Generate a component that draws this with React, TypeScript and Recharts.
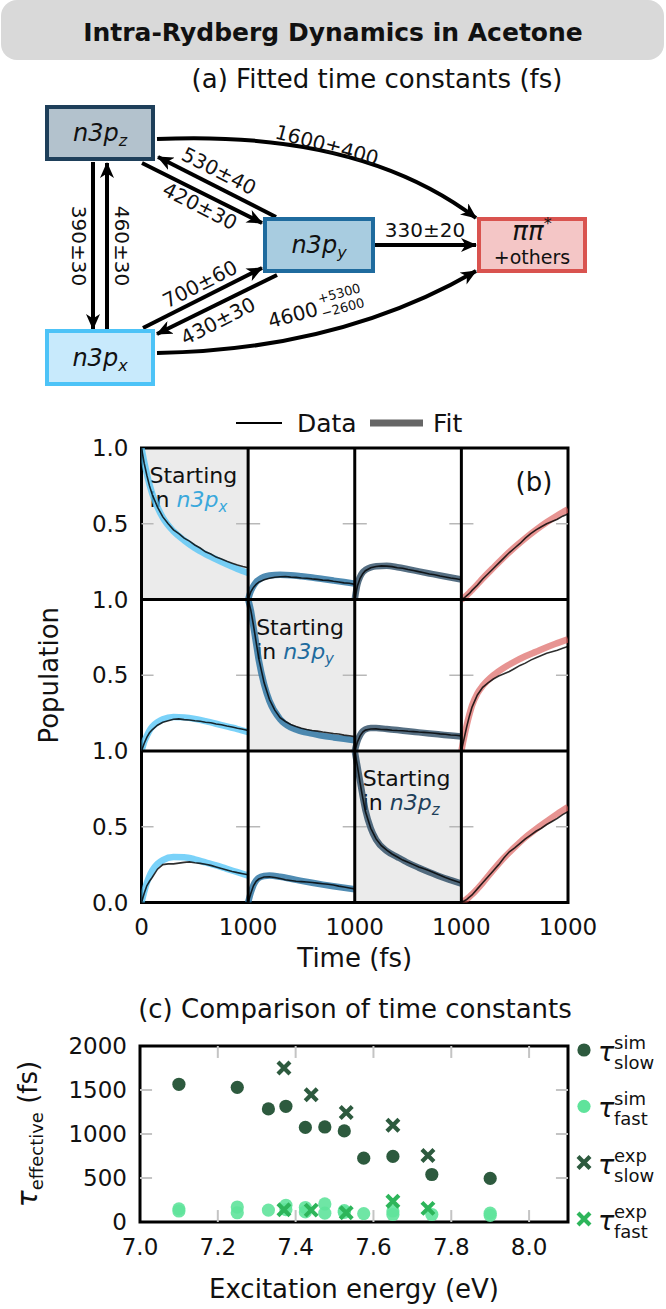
import React from 'react';
import {
  LineChart, Line, XAxis, YAxis, ReferenceArea, ReferenceLine,
  ScatterChart, Scatter,
} from 'recharts';

const FONT = '"DejaVu Sans", "Liberation Sans", sans-serif';
const INK = '#111';

/* ---------------- Panel (a): fitted time constants (fs) ---------------- */
const TRANSITIONS = ['z-p', 'y-z', 'z-y', 'z-x', 'x-z', 'x-y', 'y-x', 'y-p', 'x-p'];
const TAU_LABELS = ['1600±400', '530±40', '420±30', '390±30', '460±30', '700±60', '430±30', '330±20', '4600'];
const TAU_XP_ERR = ['+5300', '−2600'];

/* layout of the diagram (not data) */
const BOXES: Record<string, { x: number; y: number; w: number; h: number; stroke: string; fill: string }> = {
  z: { x: 45, y: 105, w: 110, h: 56, stroke: '#1e3f5a', fill: '#b3c2cd' },
  y: { x: 263, y: 217, w: 112, h: 56, stroke: '#1f6b9e', fill: '#a8cce0' },
  x: { x: 45, y: 329, w: 110, h: 57, stroke: '#4dc3f7', fill: '#c8eafc' },
  p: { x: 477, y: 217, w: 110, h: 56, stroke: '#d9534f', fill: '#f4c6c6' },
};
const ARROW_PATHS: Record<string, string> = {
  'z-p': 'M157,139 Q360,130 476,218',
  'y-z': 'M276,217 L158,157',
  'z-y': 'M142,163 L262,223',
  'z-x': 'M93,162 L93,329',
  'x-z': 'M107,329 L107,163',
  'x-y': 'M143,328 L262,268',
  'y-x': 'M277,275 L157,334',
  'y-p': 'M375,245 L476,245',
  'x-p': 'M157,353 Q340,350 476,271',
};
const LABEL_POS: Record<string, [number, number, number]> = {
  'z-p': [327, 145, 15],
  'y-z': [219, 171, 27],
  'z-y': [200, 206, 27],
  'z-x': [79, 246, 90],
  'x-z': [122, 246, 90],
  'x-y': [200, 284, -27],
  'y-x': [218, 321, -27],
  'y-p': [425, 230, 0],
  'x-p': [293, 315, -15],
};

/* ---------------- Panel (b): populations ---------------- */
const T_MAX = 1000;
const DATA_T = [0, 25, 50, 75, 100, 150, 200, 250, 300, 350, 400, 450, 500, 550, 600, 650, 700, 750, 800, 850, 900, 950, 1000];
const FIT_T = [0, 25, 50, 75, 100, 150, 200, 300, 400, 500, 600, 700, 800, 900, 1000];

// starting in n3px
const D_X_X = [1.0, 0.9, 0.82, 0.75, 0.695, 0.61, 0.545, 0.5, 0.46, 0.435, 0.405, 0.385, 0.36, 0.34, 0.315, 0.3, 0.28, 0.268, 0.252, 0.24, 0.228, 0.218, 0.21];
const F_X_X = [1.0, 0.91, 0.83, 0.76, 0.7, 0.61, 0.54, 0.45, 0.39, 0.34, 0.3, 0.265, 0.232, 0.202, 0.175];
const D_X_Y = [0, 0.05, 0.08, 0.1, 0.115, 0.13, 0.14, 0.147, 0.15, 0.152, 0.148, 0.146, 0.142, 0.14, 0.136, 0.133, 0.128, 0.126, 0.12, 0.116, 0.11, 0.107, 0.1];
const F_X_Y = [0, 0.055, 0.09, 0.115, 0.13, 0.15, 0.158, 0.163, 0.16, 0.153, 0.145, 0.135, 0.125, 0.115, 0.105];
const D_X_Z = [0, 0.09, 0.14, 0.17, 0.19, 0.21, 0.218, 0.222, 0.22, 0.217, 0.21, 0.206, 0.198, 0.192, 0.184, 0.177, 0.168, 0.163, 0.155, 0.149, 0.142, 0.137, 0.13];
const F_X_Z = [0, 0.1, 0.15, 0.18, 0.195, 0.212, 0.22, 0.222, 0.213, 0.2, 0.186, 0.172, 0.158, 0.145, 0.132];
const D_X_P = [0, 0.01, 0.025, 0.04, 0.06, 0.095, 0.135, 0.17, 0.205, 0.24, 0.275, 0.31, 0.34, 0.37, 0.405, 0.435, 0.46, 0.48, 0.5, 0.515, 0.53, 0.55, 0.565];
const F_X_P = [0, 0.012, 0.028, 0.045, 0.063, 0.1, 0.138, 0.21, 0.28, 0.345, 0.405, 0.46, 0.51, 0.555, 0.595];
// starting in n3py
const D_Y_X = [0, 0.05, 0.09, 0.12, 0.14, 0.17, 0.19, 0.2, 0.21, 0.212, 0.207, 0.205, 0.2, 0.196, 0.19, 0.186, 0.178, 0.173, 0.165, 0.158, 0.15, 0.143, 0.135];
const F_Y_X = [0, 0.06, 0.1, 0.135, 0.16, 0.19, 0.21, 0.225, 0.222, 0.212, 0.197, 0.18, 0.162, 0.145, 0.125];
const D_Y_Y = [1.0, 0.93, 0.83, 0.72, 0.61, 0.45, 0.34, 0.27, 0.22, 0.195, 0.175, 0.162, 0.15, 0.142, 0.135, 0.131, 0.125, 0.121, 0.115, 0.112, 0.105, 0.101, 0.095];
const F_Y_Y = [1.0, 0.93, 0.82, 0.71, 0.6, 0.44, 0.33, 0.21, 0.155, 0.13, 0.115, 0.1, 0.09, 0.08, 0.07];
const D_Y_Z = [0, 0.06, 0.1, 0.125, 0.138, 0.145, 0.146, 0.142, 0.141, 0.137, 0.135, 0.134, 0.13, 0.128, 0.125, 0.123, 0.12, 0.117, 0.113, 0.111, 0.106, 0.104, 0.1];
const F_Y_Z = [0, 0.065, 0.105, 0.13, 0.143, 0.152, 0.152, 0.145, 0.138, 0.13, 0.123, 0.116, 0.109, 0.102, 0.096];
const D_Y_P = [0, 0.08, 0.16, 0.23, 0.29, 0.37, 0.42, 0.45, 0.475, 0.495, 0.51, 0.525, 0.545, 0.565, 0.58, 0.6, 0.615, 0.63, 0.645, 0.655, 0.665, 0.678, 0.69];
const F_Y_P = [0, 0.09, 0.17, 0.24, 0.3, 0.38, 0.43, 0.5, 0.55, 0.59, 0.625, 0.655, 0.685, 0.712, 0.738];
// starting in n3pz
const D_Z_X = [0, 0.06, 0.11, 0.14, 0.165, 0.22, 0.25, 0.255, 0.255, 0.26, 0.265, 0.268, 0.262, 0.258, 0.252, 0.245, 0.235, 0.225, 0.215, 0.205, 0.197, 0.19, 0.183];
const F_Z_X = [0, 0.07, 0.13, 0.175, 0.21, 0.255, 0.28, 0.3, 0.298, 0.285, 0.265, 0.245, 0.222, 0.2, 0.178];
const D_Z_Y = [0, 0.06, 0.11, 0.14, 0.155, 0.168, 0.17, 0.165, 0.158, 0.15, 0.145, 0.14, 0.138, 0.135, 0.132, 0.128, 0.124, 0.12, 0.115, 0.108, 0.102, 0.096, 0.09];
const F_Z_Y = [0, 0.065, 0.115, 0.145, 0.162, 0.175, 0.178, 0.17, 0.157, 0.143, 0.13, 0.118, 0.107, 0.097, 0.088];
const D_Z_Z = [1.0, 0.9, 0.79, 0.69, 0.6, 0.49, 0.42, 0.375, 0.345, 0.32, 0.3, 0.28, 0.265, 0.25, 0.235, 0.222, 0.21, 0.195, 0.18, 0.165, 0.152, 0.14, 0.128];
const F_Z_Z = [1.0, 0.9, 0.8, 0.7, 0.61, 0.49, 0.415, 0.34, 0.3, 0.262, 0.23, 0.2, 0.172, 0.148, 0.125];
const D_Z_P = [0, 0.01, 0.02, 0.035, 0.05, 0.09, 0.13, 0.17, 0.21, 0.25, 0.295, 0.335, 0.36, 0.39, 0.42, 0.445, 0.47, 0.49, 0.515, 0.535, 0.555, 0.58, 0.6];
const F_Z_P = [0, 0.01, 0.022, 0.037, 0.053, 0.09, 0.13, 0.215, 0.295, 0.365, 0.43, 0.485, 0.535, 0.585, 0.63];

const GRID_DATA = [
  [D_X_X, D_X_Y, D_X_Z, D_X_P],
  [D_Y_X, D_Y_Y, D_Y_Z, D_Y_P],
  [D_Z_X, D_Z_Y, D_Z_Z, D_Z_P],
];
const GRID_FIT = [
  [F_X_X, F_X_Y, F_X_Z, F_X_P],
  [F_Y_X, F_Y_Y, F_Y_Z, F_Y_P],
  [F_Z_X, F_Z_Y, F_Z_Z, F_Z_P],
];
const START_SUB = ['x', 'y', 'z'];
const START_COLORS = ['#3aa8dc', '#1f6b9e', '#1e3f5a'];
const FIT_COLORS = ['#4dc3f7', '#1f6b9e', '#1e3f5a', '#d9534f'];
const FIT_OPACITY = [0.75, 0.78, 0.75, 0.62];
const POP_X_TICKS = [0, 1000, 2000, 3000, 4000];
const POP_Y_TICKS = [0, 0.5, 1, 1.5, 2, 2.5, 3];

/* ---------------- Panel (c): time constants ---------------- */
const E_SIM = [7.1, 7.25, 7.33, 7.375, 7.425, 7.475, 7.525, 7.575, 7.65, 7.75, 7.9];
const TAU_SLOW_SIM = [1565, 1530, 1285, 1315, 1075, 1080, 1035, 725, 745, 540, 495];
const E_FAST_SIM = [7.1, 7.1, 7.25, 7.25, 7.33, 7.375, 7.375, 7.425, 7.425, 7.475, 7.475, 7.525, 7.525, 7.575, 7.65, 7.65, 7.75, 7.9, 7.9];
const TAU_FAST_SIM = [150, 125, 170, 105, 135, 190, 140, 165, 115, 205, 100, 130, 110, 95, 125, 85, 85, 100, 75];
const E_EXP = [7.37, 7.44, 7.53, 7.65, 7.74];
const TAU_SLOW_EXP = [1750, 1445, 1245, 1100, 755];
const TAU_FAST_EXP = [140, 135, 105, 235, 155];
const E_TICKS = [7.0, 7.2, 7.4, 7.6, 7.8, 8.0];
const TAU_TICKS = [0, 500, 1000, 1500, 2000];

const DARK_GREEN = '#2d5a3e';
const LIGHT_GREEN = '#5fe39b';
const MID_GREEN = '#2db55a';

/* ---------------- helpers ---------------- */
const cellPoints = (ts: number[], vs: number[], row: number, col: number) =>
  vs.map((v, i) => ({ t: ts[i] + col * T_MAX, v: v + (2 - row) }));

const StartLabel = (props: any) => {
  const vb = props.viewBox || {};
  const x = vb.x + 8;
  const y = vb.y + 35;
  return (
    <text x={x} y={y} fontSize={22} fill={INK} fontFamily={FONT}>
      <tspan x={x}>Starting</tspan>
      <tspan x={x} dy={24}>in </tspan>
      <tspan fill={props.color} fontStyle="italic">{' n3p'}</tspan>
      <tspan fill={props.color} fontStyle="italic" fontSize={15} dy={5}>{props.sub}</tspan>
    </text>
  );
};

function PopulationGrid() {
  const tickSegs: Array<[number, number, number]> = [];
  for (let r = 0; r < 3; r++) {
    const yv = r + 0.5;
    for (let c = 0; c <= 4; c++) {
      const bx = c * T_MAX;
      if (c > 0) tickSegs.push([bx - 113, bx, yv]);
      if (c < 4) tickSegs.push([bx, bx + 113, yv]);
    }
  }
  return (
    <LineChart width={666} height={600} margin={{ top: 48, right: 98, bottom: 27.5, left: 41.5 }}>
      <XAxis
        type="number" dataKey="t" domain={[0, 4000]} ticks={POP_X_TICKS} allowDataOverflow
        tickFormatter={(v: number) => (v === 0 ? '0' : '1000')}
        axisLine={false} tickLine={false} tickSize={0} tickMargin={16} height={70}
        tick={{ fontSize: 23, fill: INK, fontFamily: FONT }}
        label={{
          content: (p: any) => {
            const vb = p.viewBox;
            return (
              <text x={vb.x + vb.width / 2} y={vb.y + 64} textAnchor="middle" fontSize={26} fill={INK} fontFamily={FONT}>
                Time (fs)
              </text>
            );
          },
        }}
      />
      <YAxis
        type="number" dataKey="v" domain={[0, 3]} ticks={POP_Y_TICKS} allowDataOverflow
        tickFormatter={(v: number) => (v === 0 ? '0.0' : Number.isInteger(v) ? '1.0' : '0.5')}
        axisLine={false} tickLine={false} tickSize={0} tickMargin={13} width={100}
        tick={{ fontSize: 23, fill: INK, fontFamily: FONT }}
        label={{
          content: (p: any) => {
            const vb = p.viewBox;
            const cy = vb.y + vb.height / 2;
            return (
              <text x={58} y={cy} transform={`rotate(-90, 58, ${cy})`} textAnchor="middle" fontSize={26} fill={INK} fontFamily={FONT}>
                Population
              </text>
            );
          },
        }}
      />
      {[0, 1, 2].map((r) => (
        <ReferenceArea
          key={`shade-${r}`}
          x1={r * T_MAX} x2={(r + 1) * T_MAX} y1={2 - r} y2={3 - r}
          fill="#ebebeb" fillOpacity={1} stroke="none"
          label={(p: any) => <StartLabel {...p} sub={START_SUB[r]} color={START_COLORS[r]} />}
        />
      ))}
      {tickSegs.map(([a, b, yv], i) => (
        <ReferenceLine key={`tk-${i}`} segment={[{ x: a, y: yv }, { x: b, y: yv }]} stroke="#b8b8b8" strokeWidth={1.5} />
      ))}
      {GRID_FIT.map((row, r) =>
        row.map((vals, c) => (
          <Line
            key={`fit-${r}-${c}`} data={cellPoints(FIT_T, vals, r, c)} dataKey="v" type="monotone"
            stroke={FIT_COLORS[c]} strokeOpacity={FIT_OPACITY[c]} strokeWidth={6.5} dot={false}
            activeDot={false} isAnimationActive={false} strokeLinecap="butt"
          />
        ))
      )}
      {GRID_DATA.map((row, r) =>
        row.map((vals, c) => (
          <Line
            key={`dat-${r}-${c}`} data={cellPoints(DATA_T, vals, r, c)} dataKey="v" type="linear"
            stroke="#000" strokeOpacity={0.82} strokeWidth={1.6} dot={false}
            activeDot={false} isAnimationActive={false}
          />
        ))
      )}
      {[1000, 2000, 3000].map((x) => (
        <ReferenceLine key={`vx-${x}`} x={x} stroke="#000" strokeWidth={3} />
      ))}
      {[1, 2].map((y) => (
        <ReferenceLine key={`hy-${y}`} y={y} stroke="#000" strokeWidth={3} />
      ))}
      <ReferenceArea x1={0} x2={4000} y1={0} y2={3} fill="none" stroke="#000" strokeWidth={3} />
    </LineChart>
  );
}

const dotShape = (color: string, opacity = 1) => (p: any) => (
  <circle cx={p.cx} cy={p.cy} r={6.6} fill={color} fillOpacity={opacity} />
);
const crossShape = (color: string) => (p: any) => (
  <path
    d={`M${p.cx - 6},${p.cy - 6}L${p.cx + 6},${p.cy + 6}M${p.cx - 6},${p.cy + 6}L${p.cx + 6},${p.cy - 6}`}
    stroke={color} strokeWidth={4.2} fill="none"
  />
);

function TimeConstantScatter() {
  const slowSim = E_SIM.map((e, i) => ({ e, tau: TAU_SLOW_SIM[i] }));
  const fastSim = E_FAST_SIM.map((e, i) => ({ e, tau: TAU_FAST_SIM[i] }));
  const slowExp = E_EXP.map((e, i) => ({ e, tau: TAU_SLOW_EXP[i] }));
  const fastExp = E_EXP.map((e, i) => ({ e, tau: TAU_FAST_EXP[i] }));
  const TL_X = 0.031; // ~12 px in eV
  const TL_Y = 136; // ~12 px in fs
  const inner = E_TICKS.filter((t) => t > 7.0);
  const innerY = TAU_TICKS.filter((t) => t > 0 && t < 2000);
  return (
    <ScatterChart width={666} height={349} margin={{ top: 86, right: 98, bottom: 7, left: 40 }}>
      <XAxis
        type="number" dataKey="e" domain={[7.0, 8.1]} ticks={E_TICKS} allowDataOverflow
        tickFormatter={(v: number) => v.toFixed(1)}
        axisLine={false} tickLine={false} tickSize={0} tickMargin={17} height={80}
        tick={{ fontSize: 23, fill: INK, fontFamily: FONT }}
        label={{
          content: (p: any) => {
            const vb = p.viewBox;
            return (
              <text x={vb.x + vb.width / 2} y={vb.y + 76} textAnchor="middle" fontSize={26} fill={INK} fontFamily={FONT}>
                Excitation energy (eV)
              </text>
            );
          },
        }}
      />
      <YAxis
        type="number" dataKey="tau" domain={[0, 2000]} ticks={TAU_TICKS} allowDataOverflow
        axisLine={false} tickLine={false} tickSize={0} tickMargin={13} width={100}
        tick={{ fontSize: 23, fill: INK, fontFamily: FONT }}
        label={{
          content: (p: any) => {
            const vb = p.viewBox;
            const cy = vb.y + vb.height / 2;
            return (
              <text x={37} y={cy} transform={`rotate(-90, 37, ${cy})`} textAnchor="middle" fill={INK} fontFamily={FONT}>
                <tspan fontSize={28} fontStyle="italic">τ</tspan>
                <tspan fontSize={18} dy={6}>effective</tspan>
                <tspan fontSize={26} dy={-6}>{' (fs)'}</tspan>
              </text>
            );
          },
        }}
      />
      {inner.map((t) => (
        <ReferenceLine key={`bt-${t}`} segment={[{ x: t, y: 0 }, { x: t, y: TL_Y }]} stroke="#c4c4c4" strokeWidth={2} />
      ))}
      {inner.map((t) => (
        <ReferenceLine key={`tt-${t}`} segment={[{ x: t, y: 2000 }, { x: t, y: 2000 - TL_Y }]} stroke="#c4c4c4" strokeWidth={2} />
      ))}
      {innerY.map((t) => (
        <ReferenceLine key={`lt-${t}`} segment={[{ x: 7.0, y: t }, { x: 7.0 + TL_X, y: t }]} stroke="#c4c4c4" strokeWidth={2} />
      ))}
      {innerY.map((t) => (
        <ReferenceLine key={`rt-${t}`} segment={[{ x: 8.1, y: t }, { x: 8.1 - TL_X, y: t }]} stroke="#c4c4c4" strokeWidth={2} />
      ))}
      <Scatter data={slowSim} dataKey="tau" shape={dotShape(DARK_GREEN)} isAnimationActive={false} />
      <Scatter data={fastSim} dataKey="tau" shape={dotShape(LIGHT_GREEN, 0.9)} isAnimationActive={false} />
      <Scatter data={slowExp} dataKey="tau" shape={crossShape(DARK_GREEN)} isAnimationActive={false} />
      <Scatter data={fastExp} dataKey="tau" shape={crossShape(MID_GREEN)} isAnimationActive={false} />
      <ReferenceArea x1={7.0} x2={8.1} y1={0} y2={2000} fill="none" stroke="#000" strokeWidth={3} />
    </ScatterChart>
  );
}

/* ---------------- static figure parts ---------------- */
function Diagram() {
  return (
    <g fontFamily={FONT} fill={INK}>
      <defs>
        <marker id="ahead" viewBox="0 0 16 14" markerWidth={16} markerHeight={14} refX={15} refY={7} orient="auto" markerUnits="userSpaceOnUse">
          <path d="M0,0 L16,7 L0,14 L4.5,7 Z" fill="#000" />
        </marker>
      </defs>
      {TRANSITIONS.map((k) => (
        <path key={k} d={ARROW_PATHS[k]} stroke="#000" strokeWidth={4} fill="none" markerEnd="url(#ahead)" />
      ))}
      {Object.keys(BOXES).map((k) => {
        const b = BOXES[k];
        return <rect key={k} x={b.x + 2} y={b.y + 2} width={b.w - 4} height={b.h - 4} fill={b.fill} stroke={b.stroke} strokeWidth={4} />;
      })}
      {['z', 'y', 'x'].map((k) => {
        const b = BOXES[k];
        return (
          <text key={`lab-${k}`} x={b.x + b.w / 2} y={b.y + b.h / 2 + 8} textAnchor="middle" fontSize={24} fontStyle="italic" fill={INK}>
            n3p<tspan fontSize={16} dy={5}>{k}</tspan>
          </text>
        );
      })}
      <text x={532} y={240} textAnchor="middle" fontSize={26} fontStyle="italic" fill={INK}>
        ππ<tspan fontSize={16} dy={-11}>*</tspan>
      </text>
      <text x={532} y={264} textAnchor="middle" fontSize={19} fill={INK}>+others</text>
      {TRANSITIONS.map((k, i) => {
        const [x, y, a] = LABEL_POS[k];
        if (k === 'x-p') {
          return (
            <g key={`t-${k}`} transform={`translate(${x},${y}) rotate(${a})`}>
              <text x={0} y={0} textAnchor="middle" dominantBaseline="central" fontSize={20} fill={INK}>{TAU_LABELS[i]}</text>
              <text x={28} y={-9} dominantBaseline="central" fontSize={13} fill={INK}>{TAU_XP_ERR[0]}</text>
              <text x={28} y={6} dominantBaseline="central" fontSize={13} fill={INK}>{TAU_XP_ERR[1]}</text>
            </g>
          );
        }
        return (
          <text key={`t-${k}`} transform={`translate(${x},${y}) rotate(${a})`} textAnchor="middle" dominantBaseline="central" fontSize={20} fill={INK}>
            {TAU_LABELS[i]}
          </text>
        );
      })}
    </g>
  );
}

const LEGEND_C = [
  { shape: 'dot', color: DARK_GREEN, sup: 'sim', sub: 'slow' },
  { shape: 'dot', color: LIGHT_GREEN, sup: 'sim', sub: 'fast' },
  { shape: 'cross', color: DARK_GREEN, sup: 'exp', sub: 'slow' },
  { shape: 'cross', color: MID_GREEN, sup: 'exp', sub: 'fast' },
];

function Overlay() {
  return (
    <svg width={666} height={1309} style={{ position: 'absolute', left: 0, top: 0, pointerEvents: 'none' }} fontFamily={FONT}>
      <rect x={1} y={0} width={663} height={60} rx={16} fill="#d9d9d9" />
      <text x={333} y={41} textAnchor="middle" fontSize={25} fontWeight="bold" fill={INK}>Intra-Rydberg Dynamics in Acetone</text>
      <text x={377} y={88} textAnchor="middle" fontSize={26} fill={INK}>(a) Fitted time constants (fs)</text>
      <Diagram />
      {/* panel (b) legend */}
      <line x1={236} y1={423} x2={282} y2={423} stroke="#000" strokeWidth={2} />
      <text x={297} y={432} fontSize={25} fill={INK}>Data</text>
      <line x1={370} y1={423} x2={423} y2={423} stroke="#666" strokeWidth={7} />
      <text x={433} y={432} fontSize={25} fill={INK}>Fit</text>
      <text x={534} y={491} textAnchor="middle" fontSize={26} fill={INK}>(b)</text>
      {/* panel (c) */}
      <text x={355} y={1018} textAnchor="middle" fontSize={26} fill={INK}>(c) Comparison of time constants</text>
      {LEGEND_C.map((it, i) => {
        const y = 1050 + i * 56.3;
        return (
          <g key={i}>
            {it.shape === 'dot' ? (
              <circle cx={584} cy={y} r={6.6} fill={it.color} />
            ) : (
              <path d={`M578,${y - 6}L590,${y + 6}M578,${y + 6}L590,${y - 6}`} stroke={it.color} strokeWidth={4.2} />
            )}
            <text x={598} y={y + 11} fontSize={27} fontStyle="italic" fill={INK}>τ</text>
            <text x={614} y={y - 1} fontSize={18} fill={INK}>{it.sup}</text>
            <text x={614} y={y + 19} fontSize={18} fill={INK}>{it.sub}</text>
          </g>
        );
      })}
    </svg>
  );
}

export default function App() {
  return (
    <div style={{ position: 'absolute', left: 0, top: 0, width: 666, height: 1309, background: '#fff', fontFamily: FONT, overflow: 'hidden' }}>
      <div style={{ position: 'absolute', left: 0, top: 400 }}>
        <PopulationGrid />
      </div>
      <div style={{ position: 'absolute', left: 0, top: 960 }}>
        <TimeConstantScatter />
      </div>
      <Overlay />
    </div>
  );
}
